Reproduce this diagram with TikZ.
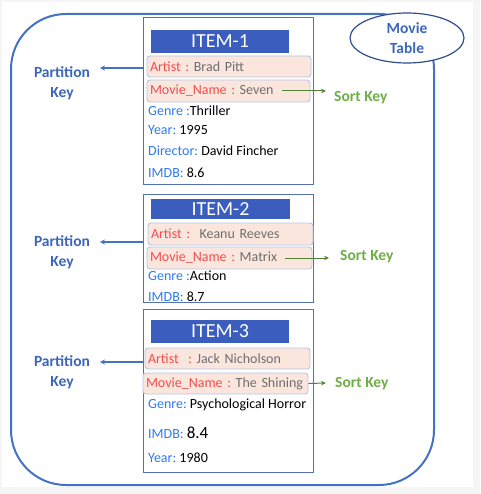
\documentclass[tikz,border=0pt]{standalone}
\usepackage{fontspec}
\setmainfont{Carlito}
\usetikzlibrary{shapes.geometric,arrows.meta}
\definecolor{hdrblue}{HTML}{3A5DBE}
\definecolor{itemborder}{HTML}{5572B0}
\definecolor{keyfill}{HTML}{FBE6DD}
\definecolor{keyborder}{HTML}{B4C7E7}
\definecolor{keylabel}{HTML}{F04E4E}
\definecolor{keyval}{HTML}{6E6E6E}
\definecolor{fieldblue}{HTML}{2E7BEB}
\definecolor{outerblue}{HTML}{4472C4}
\definecolor{ellborder}{HTML}{2F4E8C}
\definecolor{pkblue}{HTML}{3E66B8}
\definecolor{skgreen}{HTML}{70AD47}
\definecolor{arrowgreen}{HTML}{548235}
\frenchspacing
\tikzset{
  itembox/.style={draw=itemborder, line width=1pt, fill=white, anchor=north west, inner sep=0pt},
  hdr/.style={fill=hdrblue, text=white, font=\fontsize{20}{20}\selectfont, inner sep=0pt},
  keybox/.style={draw=keyborder, fill=keyfill, rounded corners=3pt, line width=0.9pt, inner xsep=3pt, inner ysep=0pt, align=left, font=\frenchspacing\fontsize{14}{16}\selectfont},
  field/.style={anchor=west, inner sep=0pt, font=\frenchspacing\fontsize{14}{16}\selectfont},
  pk/.style={text=pkblue, font=\bfseries\fontsize{15.5}{20}\selectfont, align=center, inner sep=0pt},
  sk/.style={text=skgreen, font=\bfseries\fontsize{15.5}{18}\selectfont, anchor=west, inner sep=0pt},
  pkarrow/.style={draw=outerblue, line width=1.5pt, -{Stealth[length=5pt,width=5pt]}},
  skarrow/.style={draw=arrowgreen, line width=1pt, -{Stealth[length=5pt,width=4.5pt]}},
}
\newcommand{\kl}[1]{\textcolor{keylabel}{#1}}
\newcommand{\kv}[1]{\textcolor{keyval}{#1}}
\newcommand{\fl}[1]{\textcolor{fieldblue}{#1}}
\begin{document}
\begin{tikzpicture}[x=1pt,y=-1pt]
\useasboundingbox (0,0) rectangle (480,494);
\fill[black!4] (0,0) rectangle (480,494);
\fill[white] (2,2) rectangle (473,487);
% outer table
\draw[outerblue, line width=2pt, rounded corners=55pt] (11,14) rectangle (434,485);
\node[ellipse, draw=ellborder, line width=1.2pt, fill=white, minimum width=114pt, minimum height=50pt, inner sep=0pt, text=pkblue, font=\bfseries\fontsize{15.5}{20}\selectfont, align=center] (movtab) at (407,38) {Movie\\Table};

% ITEM 1
\node[itembox, minimum width=170pt, minimum height=167pt] (item1) at (143,17) {};
\node[hdr, minimum width=138pt, minimum height=23pt] (h1) at (220,41.5) {ITEM-1};
\node[keybox, minimum height=21pt, text width=158pt] (a1) at (229,66.5) {\mbox{\kl{Artist :} \kv{Brad Pitt}}};
\node[keybox, minimum height=22pt, text width=157pt] (m1) at (228.5,91) {\mbox{\kl{Movie\_Name :} \kv{Seven}}};
\node[field] (g1) at (148,111) {\fl{Genre :}Thriller};
\node[field] (y1) at (148,130.5) {\fl{Year:} 1995};
\node[field] (d1) at (148,151) {\fl{Director:} David Fincher};
\node[field] (i1) at (148,173) {\fl{IMDB:} 8.6};
\coordinate (p1tip) at (100,68);
\coordinate (s1tip) at (326,91);
\draw[pkarrow] (item1.west |- 0,68) -- (p1tip);
\draw[skarrow] ([xshift=-28pt]m1.east) -- (s1tip);
\node[pk] (pk1) at (62,83) {Partition\\Key};
\node[sk] (sk1) at (334,97.5) {Sort Key};

% ITEM 2
\node[itembox, minimum width=170pt, minimum height=108pt] (item2) at (143,194) {};
\node[hdr, minimum width=139pt, minimum height=20pt] (h2) at (220.5,209) {ITEM-2};
\node[keybox, minimum height=22pt, text width=159pt] (a2) at (230.5,234) {\mbox{\kl{Artist :} \ \kv{Keanu Reeves}}};
\node[keybox, minimum height=22pt, text width=159pt] (m2) at (229.5,258) {\mbox{\kl{Movie\_Name :} \kv{Matrix}}};
\node[field] (g2) at (148,276) {\fl{Genre :}Action};
\node[field] (i2) at (148,297) {\fl{IMDB:} 8.7};
\coordinate (p2tip) at (100,242);
\coordinate (s2tip) at (329,258);
\draw[pkarrow] (item2.west |- 0,242) -- (p2tip);
\draw[skarrow] ([xshift=-27pt]m2.east) -- (s2tip);
\node[pk] (pk2) at (62,252) {Partition\\Key};
\node[sk] (sk2) at (340,256.5) {Sort Key};

% ITEM 3
\node[itembox, minimum width=170pt, minimum height=163pt] (item3) at (143,309) {};
\node[hdr, minimum width=138pt, minimum height=23pt] (h3) at (220,331.5) {ITEM-3};
\node[keybox, minimum height=21pt, text width=159pt] (a3) at (227.5,358.5) {\mbox{\kl{Artist \ :} \kv{Jack Nicholson}}};
\node[keybox, minimum height=21pt, text width=159pt] (m3) at (225.5,383.5) {\mbox{\kl{Movie\_Name :} \kv{The Shining}}};
\node[field] (g3) at (148,405) {\fl{Genre:} Psychological Horror};
\node[field] (i3) at (148,433) {\fl{IMDB:} {\fontsize{17}{18}\selectfont 8.4}};
\node[field] (y3) at (148,458) {\fl{Year:} 1980};
\coordinate (p3tip) at (100,362);
\coordinate (s3tip) at (326,383);
\draw[pkarrow] (item3.west |- 0,362) -- (p3tip);
\draw[skarrow] (m3.east) -- (s3tip);
\node[pk] (pk3) at (62,372) {Partition\\Key};
\node[sk] (sk3) at (335,383.5) {Sort Key};
\end{tikzpicture}
\end{document}
